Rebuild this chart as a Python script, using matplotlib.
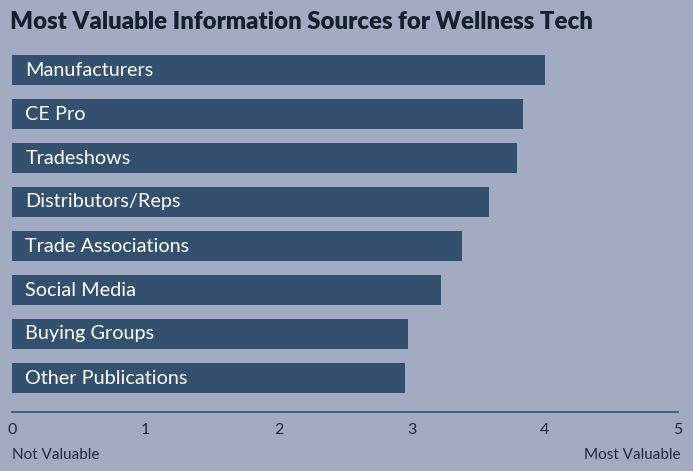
import matplotlib
matplotlib.use("Agg")
import matplotlib.pyplot as plt

categorias = ["Manufacturers", "CE Pro", "Tradeshows", "Distributors/Reps",
              "Trade Associations", "Social Media", "Buying Groups", "Other Publications"]
valores = [4.00, 3.84, 3.79, 3.58, 3.38, 3.22, 2.97, 2.95]
ticks = [0, 1, 2, 3, 4, 5]

fondo = "#a3abc3"
barra = "#34506f"

fig = plt.figure(figsize=(6.93, 4.71), dpi=100, facecolor=fondo)
ax = fig.add_axes([12 / 693, 59 / 471, 666 / 693, 357 / 471], facecolor=fondo)

pos = list(range(len(categorias)))
ax.barh(pos, valores, height=0.68, color=barra)
for p, c in zip(pos, categorias):
    ax.text(0.1, p, c, color="white", va="center", ha="left",
            fontsize=14.3, family="Lato")

ax.set_xlim(0, 5)
ax.set_ylim(7 + 34 / 44, -15 / 44)
ax.set_yticks([])
ax.set_xticks(ticks)
ax.set_xticklabels([str(t) for t in ticks], fontsize=11.5, family="Lato", color="#1e2a3a")
ax.tick_params(axis="x", length=0, pad=8)
for s in ["top", "right", "left"]:
    ax.spines[s].set_visible(False)
ax.spines["bottom"].set_color("#34506f")
ax.spines["bottom"].set_linewidth(1.2)

fig.text(10 / 693, 1 - 22 / 471, "Most Valuable Information Sources for Wellness Tech",
         fontsize=17.3, fontweight="black", family="Lato", color="#15202e", va="center")
fig.text(12 / 693, 1 - 455 / 471, "Not Valuable", fontsize=11, family="Lato",
         color="#1e2a3a", va="center")
fig.text(680 / 693, 1 - 455 / 471, "Most Valuable", fontsize=11, family="Lato",
         color="#1e2a3a", va="center", ha="right")

fig.savefig("out.png", dpi=100, facecolor=fondo)
